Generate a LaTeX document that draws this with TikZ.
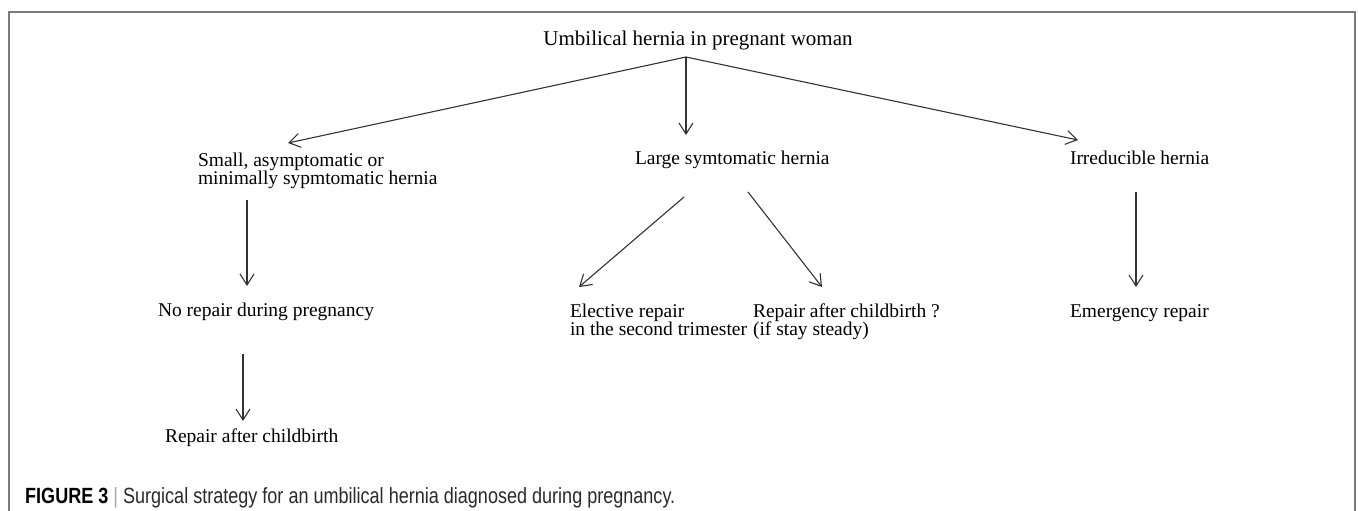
\documentclass[tikz,border=0pt]{standalone}
\usepackage{fontspec}
\setmainfont{Liberation Serif}
\newfontfamily\capfont[FakeStretch=0.82]{Liberation Sans}
\usetikzlibrary{arrows.meta}
\definecolor{framegray}{HTML}{7A7A7A}
\definecolor{linegray}{HTML}{333333}
\definecolor{captext}{HTML}{2A2A2A}
\tikzset{
  x=1pt, y=-1pt,
  lbl/.style={inner sep=0pt, outer sep=0pt, anchor=base west, align=left,
              font=\fontsize{19.5}{18}\selectfont, text=black},
  arr/.style={draw=linegray, line width=1.1pt,
              -{Straight Barb[length=11pt,width=14pt,line width=1.1pt]}},
  frame/.style={draw=framegray, line width=1.6pt}
}
\begin{document}
\begin{tikzpicture}
\useasboundingbox (0,0) rectangle (1358,511);
\draw[frame] (9,520) -- (9,12) -- (1355,12) -- (1355,520);

\node[lbl, anchor=base, font=\fontsize{21}{22}\selectfont] (root) at (698,46) {Umbilical hernia in pregnant woman};
\coordinate (apex) at (686,57);

% two-line nodes: base anchor is the baseline of the last line
\node[lbl] (small) at (198,184) {Small, asymptomatic or\\minimally sypmtomatic hernia};
\node[lbl] (large) at (635,164) {Large symtomatic hernia};
\node[lbl] (irred) at (1070,164) {Irreducible hernia};

\node[lbl] (norep) at (158,316) {No repair during pregnancy};
\node[lbl] (elect) at (570,335) {Elective repair\\in the second trimester};
\node[lbl] (after) at (753,335) {Repair after childbirth ?\\(if stay steady)};
\node[lbl] (emerg) at (1070,317) {Emergency repair};
\node[lbl] (child) at (165,442) {Repair after childbirth};

\coordinate (tSmall) at (288,143);
\coordinate (tLarge) at (686,135);
\coordinate (tIrred) at (1078,140);
\draw[arr] (apex) -- (tSmall);
\draw[arr] (apex) -- (tLarge);
\draw[arr] (apex) -- (tIrred);

\coordinate (s1) at (247,200); \coordinate (e1) at (247,286);
\draw[arr] (s1) -- (e1);
\coordinate (s2) at (243,354); \coordinate (e2) at (243,421);
\draw[arr] (s2) -- (e2);
\coordinate (s3) at (684,197); \coordinate (e3) at (579,287);
\draw[arr] (s3) -- (e3);
\coordinate (s4) at (748,192); \coordinate (e4) at (822,287);
\draw[arr] (s4) -- (e4);
\coordinate (s5) at (1136,192); \coordinate (e5) at (1136,287);
\draw[arr] (s5) -- (e5);

\node[inner sep=0pt, anchor=base west, font=\capfont\fontsize{22}{24}\selectfont, text=captext] (cap) at (25,503)
  {\textbf{\color{black}FIGURE 3} {\color{gray!70}|} Surgical strategy for an umbilical hernia diagnosed during pregnancy.};
\end{tikzpicture}
\end{document}
